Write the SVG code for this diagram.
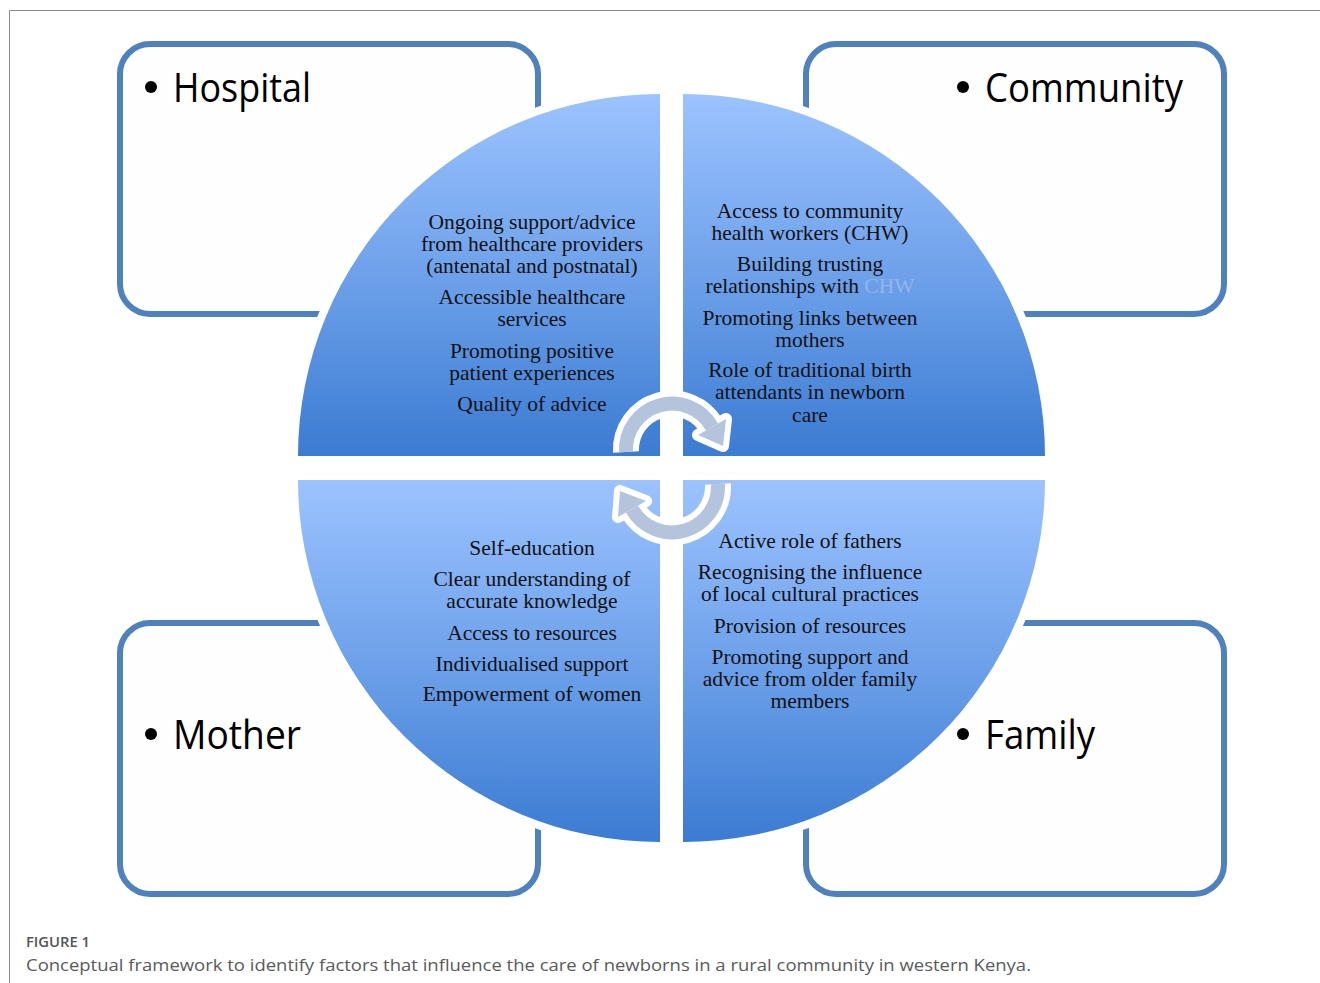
<svg xmlns="http://www.w3.org/2000/svg" width="1320" height="983" viewBox="0 0 1320 983">
  <style>
    .box { fill: #fefefe; stroke: #4f81bd; stroke-width: 6; }
    .halo { fill: #ffffff; stroke: #ffffff; stroke-width: 16; stroke-linejoin: round; }
    .label { font-family: "Open Sans", "Liberation Sans", sans-serif; font-size: 40px; fill: #000; }
    .bullet { fill: #000; }
    .item { font-family: "Liberation Serif", "DejaVu Serif", serif; font-size: 21.5px; fill: #111; text-anchor: middle; }
    .faint { fill: #93b6ea; }
    .arrow-halo { fill: none; stroke: #ffffff; stroke-width: 26; }
    .arrow-shaft { fill: none; stroke: #b5c4dd; stroke-width: 14; }
    .head-halo { fill: #ffffff; stroke: #ffffff; stroke-width: 12; stroke-linejoin: round; }
    .head { fill: #b5c4dd; }
    .cap-title { font-family: "Open Sans", "Liberation Sans", sans-serif; font-size: 14px; font-weight: 600; fill: #555; }
    .cap-text { font-family: "Open Sans", "Liberation Sans", sans-serif; font-size: 17px; fill: #5a5a5a; }
  </style>
  <defs>
    <linearGradient id="quadFill" x1="0" y1="0" x2="0" y2="1">
      <stop offset="0" stop-color="#9cc3ff"/>
      <stop offset="0.5" stop-color="#6ea1ea"/>
      <stop offset="1" stop-color="#3b7bd2"/>
    </linearGradient>
  </defs>

  <rect width="1320" height="983" fill="#ffffff"/>
  <!-- figure frame -->
  <path d="M9.5,983 L9.5,10.5 L1320,10.5" fill="none" stroke="#8a8a8a" stroke-width="1"/>

  <!-- outer category boxes -->
  <g id="hospital">
    <rect class="box" x="120" y="44" width="418" height="270" rx="30"/>
    <circle class="bullet" cx="151" cy="87" r="6"/>
    <text class="label" x="173" y="102" textLength="138" lengthAdjust="spacingAndGlyphs">Hospital</text>
  </g>
  <g id="community">
    <rect class="box" x="806" y="44" width="418" height="270" rx="30"/>
    <circle class="bullet" cx="963" cy="87" r="6"/>
    <text class="label" x="985" y="102" textLength="198" lengthAdjust="spacingAndGlyphs">Community</text>
  </g>
  <g id="mother">
    <rect class="box" x="120" y="623" width="418" height="271" rx="30"/>
    <circle class="bullet" cx="151" cy="734" r="6"/>
    <text class="label" x="173" y="749" textLength="128" lengthAdjust="spacingAndGlyphs">Mother</text>
  </g>
  <g id="family">
    <rect class="box" x="806" y="623" width="418" height="271" rx="30"/>
    <circle class="bullet" cx="963" cy="734" r="6"/>
    <text class="label" x="985" y="749" textLength="110" lengthAdjust="spacingAndGlyphs">Family</text>
  </g>

  <!-- white halos separating the quarter discs from the boxes -->
  <g id="halos">
    <path class="halo" d="M660,456 L298,456 A362,362 0 0 1 660,94 Z"/>
    <path class="halo" d="M683,456 L683,94 A362,362 0 0 1 1045,456 Z"/>
    <path class="halo" d="M660,480 L660,842 A362,362 0 0 1 298,480 Z"/>
    <path class="halo" d="M683,480 L1045,480 A362,362 0 0 1 683,842 Z"/>
  </g>

  <!-- quarter discs -->
  <g id="q-hospital">
    <path d="M660,456 L298,456 A362,362 0 0 1 660,94 Z" fill="url(#quadFill)"/>
    <text class="item" x="532" y="229">Ongoing support/advice</text>
    <text class="item" x="532" y="251">from healthcare providers</text>
    <text class="item" x="532" y="273">(antenatal and postnatal)</text>
    <text class="item" x="532" y="304">Accessible healthcare</text>
    <text class="item" x="532" y="326">services</text>
    <text class="item" x="532" y="358">Promoting positive</text>
    <text class="item" x="532" y="380">patient experiences</text>
    <text class="item" x="532" y="411">Quality of advice</text>
  </g>
  <g id="q-community">
    <path d="M683,456 L683,94 A362,362 0 0 1 1045,456 Z" fill="url(#quadFill)"/>
    <text class="item" x="810" y="218">Access to community</text>
    <text class="item" x="810" y="240">health workers (CHW)</text>
    <text class="item" x="810" y="271">Building trusting</text>
    <text class="item" x="810" y="293">relationships with <tspan class="faint">CHW</tspan></text>
    <text class="item" x="810" y="325">Promoting links between</text>
    <text class="item" x="810" y="347">mothers</text>
    <text class="item" x="810" y="377">Role of traditional birth</text>
    <text class="item" x="810" y="399">attendants in newborn</text>
    <text class="item" x="810" y="422">care</text>
  </g>
  <g id="q-mother">
    <path d="M660,480 L660,842 A362,362 0 0 1 298,480 Z" fill="url(#quadFill)"/>
    <text class="item" x="532" y="555">Self-education</text>
    <text class="item" x="532" y="586">Clear understanding of</text>
    <text class="item" x="532" y="608">accurate knowledge</text>
    <text class="item" x="532" y="640">Access to resources</text>
    <text class="item" x="532" y="671">Individualised support</text>
    <text class="item" x="532" y="701">Empowerment of women</text>
  </g>
  <g id="q-family">
    <path d="M683,480 L1045,480 A362,362 0 0 1 683,842 Z" fill="url(#quadFill)"/>
    <text class="item" x="810" y="548">Active role of fathers</text>
    <text class="item" x="810" y="579">Recognising the influence</text>
    <text class="item" x="810" y="601">of local cultural practices</text>
    <text class="item" x="810" y="633">Provision of resources</text>
    <text class="item" x="810" y="664">Promoting support and</text>
    <text class="item" x="810" y="686">advice from older family</text>
    <text class="item" x="810" y="708">members</text>
  </g>

  <!-- circular cycle arrows in the centre -->
  <g id="connectors">
    <g id="arrow-top">
      <path class="arrow-halo" d="M626,452 A46,46 0 0 1 712,427"/>
      <polygon class="head-halo" points="698,435 726,419 723,446"/>
      <path class="arrow-shaft" d="M626,452 A46,46 0 0 1 712,427"/>
      <polygon class="head" points="698,435 726,419 723,446"/>
    </g>
    <g id="arrow-bottom">
      <path class="arrow-halo" d="M718,484 A46,46 0 0 1 632,509"/>
      <polygon class="head-halo" points="646,501 618,517 620,491"/>
      <path class="arrow-shaft" d="M718,484 A46,46 0 0 1 632,509"/>
      <polygon class="head" points="646,501 618,517 620,491"/>
    </g>
  </g>

  <!-- caption -->
  <text class="cap-title" x="26" y="947" textLength="64" lengthAdjust="spacingAndGlyphs">FIGURE 1</text>
  <text class="cap-text" x="26" y="971" textLength="1005" lengthAdjust="spacingAndGlyphs">Conceptual framework to identify factors that influence the care of newborns in a rural community in western Kenya.</text>
</svg>
